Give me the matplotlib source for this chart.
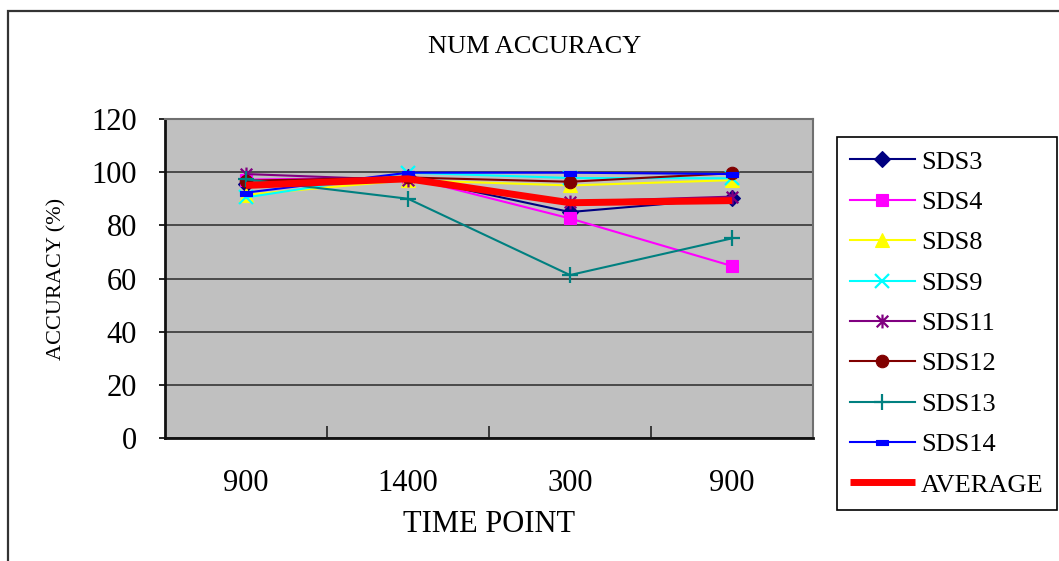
import matplotlib
matplotlib.use("Agg")
import matplotlib.pyplot as plt
from matplotlib.path import Path
from matplotlib.patches import Rectangle

# Time points (categories) and accuracy per subject (%)
time_points = ["900", "1400", "300", "900"]
sds3 = [95.5, 98.0, 85.0, 90.2]
sds4 = [97.2, 98.0, 82.6, 64.7]
sds8 = [91.5, 97.0, 95.0, 97.0]
sds9 = [90.5, 99.8, 97.8, 97.7]
sds11 = [99.3, 97.0, 88.9, 90.8]
sds12 = [96.8, 98.0, 96.4, 99.6]
sds13 = [97.3, 90.0, 61.3, 75.1]
sds14 = [92.3, 99.8, 99.8, 99.3]
average = [95.0, 97.5, 88.5, 89.3]

y_ticks = [0, 20, 40, 60, 80, 100, 120]

FONT = "Liberation Serif"
plt.rcParams["font.family"] = [FONT, "DejaVu Serif"]

# Custom markers: asterisk (x with a vertical bar) and short dash
M, L = Path.MOVETO, Path.LINETO
asterisk = Path([(-1, -1), (1, 1), (-1, 1), (1, -1), (0, -1.2), (0, 1.2)],
                [M, L, M, L, M, L])
dash = Path([(-1, -0.45), (1, -0.45), (1, 0.45), (-1, 0.45), (-1, -0.45)],
            [M, L, L, L, Path.CLOSEPOLY])

series = [
    ("SDS3", sds3, "#000080", "D", 8),
    ("SDS4", sds4, "#FF00FF", "s", 9),
    ("SDS8", sds8, "#FFFF00", "^", 10),
    ("SDS9", sds9, "#00FFFF", "x", 10),
    ("SDS11", sds11, "#800080", asterisk, 10),
    ("SDS12", sds12, "#800000", "o", 9),
    ("SDS13", sds13, "#008080", "+", 11),
    ("SDS14", sds14, "#0000FF", dash, 8),
]

W, H = 1059, 561
fig = plt.figure(figsize=(W / 100, H / 100), dpi=100)
fig.patch.set_facecolor("white")

# Outer chart frame (runs off the right and bottom edges)
fig.patches.append(Rectangle((8 / W, -0.2), 1.2, 1.2 - 11 / H,
                             transform=fig.transFigure, fill=False,
                             edgecolor="#333333", linewidth=1.6))

ax = fig.add_axes([165 / W, 1 - 438 / H, 648 / W, 319 / H])
ax.set_facecolor("#C0C0C0")

x = list(range(len(time_points)))
for name, vals, color, marker, ms in series:
    filled = marker not in ("x", "+") and marker is not asterisk
    ax.plot(x, vals, color=color, lw=1.5, marker=marker, markersize=ms,
            markerfacecolor=color if filled else "none",
            markeredgecolor=color, markeredgewidth=1.6 if not filled else 0.8,
            label=name, zorder=3)
ax.plot(x, average, color="#FF0000", lw=5, solid_capstyle="butt",
        label="AVERAGE", zorder=4)

ax.set_xlim(-0.5, len(time_points) - 0.5)
ax.set_ylim(0, 120)
ax.set_yticks(y_ticks)
ax.yaxis.grid(True, color="#404040", lw=1.3)
ax.set_axisbelow(True)

ax.set_xticks(x)
ax.set_xticklabels(time_points)
ax.set_xticks([i + 0.5 for i in x], minor=True)
ax.tick_params(axis="x", which="major", length=0, pad=22, labelsize=22)
ax.tick_params(axis="x", which="minor", direction="in", length=9,
               width=1.2, color="#222222")
ax.tick_params(axis="y", which="major", direction="out", length=4,
               width=1.2, pad=16, labelsize=22)

for side in ("left", "bottom"):
    ax.spines[side].set_color("#111111")
    ax.spines[side].set_linewidth(2)
for side in ("top", "right"):
    ax.spines[side].set_color("#707070")
    ax.spines[side].set_linewidth(1.5)

ax.set_xlabel("TIME POINT", fontsize=22, va="center")
ax.xaxis.set_label_coords(0.5, (438 - 524) / 319)
ax.set_ylabel("ACCURACY (%)", fontsize=16, va="center")
ax.yaxis.set_label_coords((57 - 165) / 648, 0.5)

fig.text(535 / W, 1 - 47 / H, "NUM ACCURACY", fontsize=19,
         ha="center", va="center")

leg = ax.legend(loc="upper right", bbox_to_anchor=(1057 / W, 1 - 137 / H),
                bbox_transform=fig.transFigure, borderaxespad=0,
                fontsize=19, frameon=True, fancybox=False,
                edgecolor="black", facecolor="white", framealpha=1,
                handlelength=2.45, handletextpad=0.25, labelspacing=0.64,
                borderpad=0.5)
leg.get_frame().set_linewidth(1.2)

fig.savefig("out.png", dpi=100)
